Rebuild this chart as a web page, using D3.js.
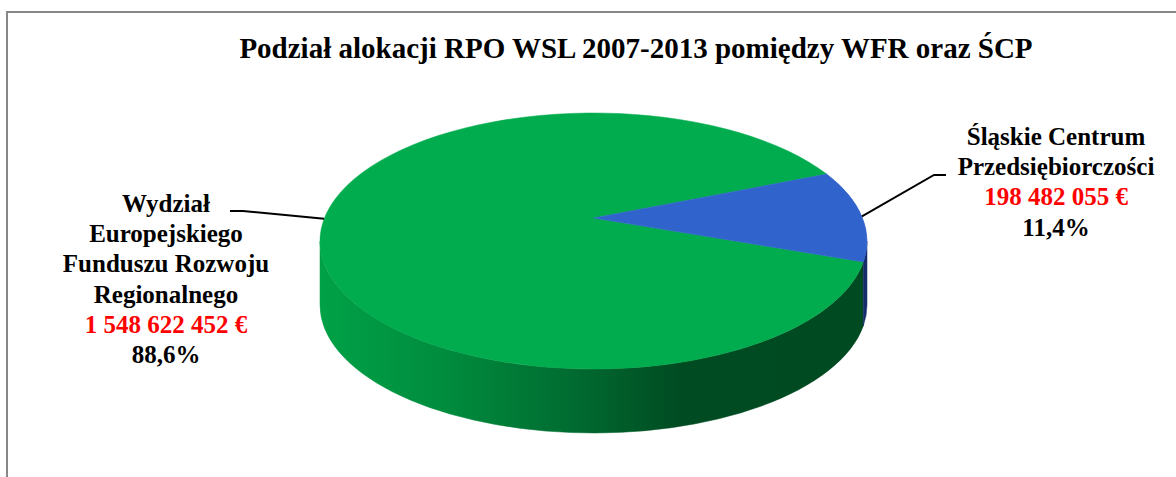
<!DOCTYPE html>
<html>
<head>
<meta charset="utf-8">
<script src="https://cdn.jsdelivr.net/npm/d3@7"></script>
<style>
  body { margin: 0; background: #fff; }
  svg { display: block; }
  text { font-family: "Liberation Serif", "Times New Roman", serif; font-weight: bold; }
</style>
</head>
<body>
<svg width="1176" height="477"></svg>
<script>
// data
var title = 'Podział alokacji RPO WSL 2007-2013 pomiędzy WFR oraz ŚCP'
var categories = ['Wydział Europejskiego Funduszu Rozwoju Regionalnego', 'Śląskie Centrum Przedsiębiorczości']
var labelLines = [
    ['Wydział', 'Europejskiego', 'Funduszu Rozwoju', 'Regionalnego'],
    ['Śląskie Centrum', 'Przedsiębiorczości']
]
var values = [1548622452, 198482055]
var topColors = ['#00ac4e', '#3163cd']
var sideColors = ['url(#greenSide)', '#142d6a']

var svg = d3.select('svg')
var width = +svg.attr('width'),
    height = +svg.attr('height')

var pl = d3.formatLocale({ decimal: ',', thousands: ' ', grouping: [3], currency: ['', ' €'] })
var fmtMoney = pl.format('$,.0f'),
    fmtPct = pl.format('.1%')

// frame (runs past the right and bottom edge like the original crop)
svg.append('rect')
    .attr('x', 7).attr('y', 12)
    .attr('width', width + 20).attr('height', height + 20)
    .style('fill', 'none')
    .style('stroke', '#878787')
    .style('stroke-width', 2)

svg.append('text')
    .attr('x', 636).attr('y', 58)
    .attr('text-anchor', 'middle')
    .style('font-size', '29px')
    .text(title)

// pie geometry
var cx = 593.5, cy = 241, rx = 273.5, ry = 128, depth = 64, apexLift = 23
var startDeg = 99.4

var pie = d3.pie().sort(null)
    .startAngle(startDeg * Math.PI / 180)
    .endAngle(startDeg * Math.PI / 180 + 2 * Math.PI)
var arcs = pie(values)

var defs = svg.append('defs')
var grad = defs.append('linearGradient')
    .attr('id', 'greenSide')
    .attr('gradientUnits', 'userSpaceOnUse')
    .attr('x1', cx - rx).attr('x2', cx + rx)
    .attr('y1', 0).attr('y2', 0)
var stops = [[0, '#00a147'], [0.22, '#008d3e'], [0.45, '#006d31'], [0.66, '#004b22'], [1, '#004a21']]
stops.forEach(s => grad.append('stop').attr('offset', s[0]).attr('stop-color', s[1]))

// screen angle from d3 pie angle
function th(a) { return a - Math.PI / 2 }
function pt(t, dy = 0) { return [cx + rx * Math.cos(t), cy + ry * Math.sin(t) + dy] }

function sidePath(t0, t1) {
    var p0 = pt(t0), p1 = pt(t1)
    var large = (t1 - t0) > Math.PI ? 1 : 0
    return 'M' + p0 + 'A' + rx + ',' + ry + ' 0 ' + large + ' 1 ' + p1 +
        'L' + pt(t1, depth) + 'A' + rx + ',' + ry + ' 0 ' + large + ' 0 ' + pt(t0, depth) + 'Z'
}

// side faces: only the front half (screen angle 0..pi) is visible
var sides = svg.append('g')
arcs.forEach((d, i) => {
    var t0 = th(d.startAngle), t1 = th(d.endAngle)
    ;[0, 2 * Math.PI].forEach(off => {
        var a = Math.max(t0, off), b = Math.min(t1, off + Math.PI)
        if (b > a) {
            sides.append('path')
                .attr('d', sidePath(a, b))
                .style('fill', sideColors[i])
                .style('stroke', sideColors[i])
                .style('stroke-width', 0.5)
        }
    })
})

// top faces
var apex = [cx, cy - apexLift]
svg.append('g').selectAll('path')
    .data(arcs)
    .join('path')
    .attr('d', d => {
        var t0 = th(d.startAngle), t1 = th(d.endAngle)
        var large = (t1 - t0) > Math.PI ? 1 : 0
        return 'M' + apex + 'L' + pt(t0) + 'A' + rx + ',' + ry + ' 0 ' + large + ' 1 ' + pt(t1) + 'Z'
    })
    .style('fill', (d, i) => topColors[i])
    .style('stroke', (d, i) => topColors[i])
    .style('stroke-width', 0.5)

// labels with leader lines
var labels = [
    { x: 166, y: 212, anchorDeg: 190, elbow: [230, 211], knee: [243, 211] },
    { x: 1056, y: 145, anchorDeg: null, elbow: [946, 175], knee: [934, 175] }
]
var lineH = 30.2

arcs.forEach((d, i) => {
    var L = labels[i]
    var t = L.anchorDeg === null ? th((d.startAngle + d.endAngle) / 2) : L.anchorDeg * Math.PI / 180
    var a = pt(t)
    svg.append('polyline')
        .attr('points', [L.elbow, L.knee, a].join(' '))
        .style('fill', 'none')
        .style('stroke', '#000')
        .style('stroke-width', 2)

    var g = svg.append('text')
        .attr('text-anchor', 'middle')
        .style('font-size', '25px')
    var lines = labelLines[i].map(s => ({ s: s, c: '#000' }))
        .concat([{ s: fmtMoney(d.data), c: '#ff0000' }, { s: fmtPct(d.data / d3.sum(values)), c: '#000' }])
    lines.forEach((ln, k) => {
        g.append('tspan')
            .attr('x', L.x)
            .attr('y', L.y + k * lineH)
            .style('fill', ln.c)
            .text(ln.s)
    })
})
</script>
</body>
</html>
